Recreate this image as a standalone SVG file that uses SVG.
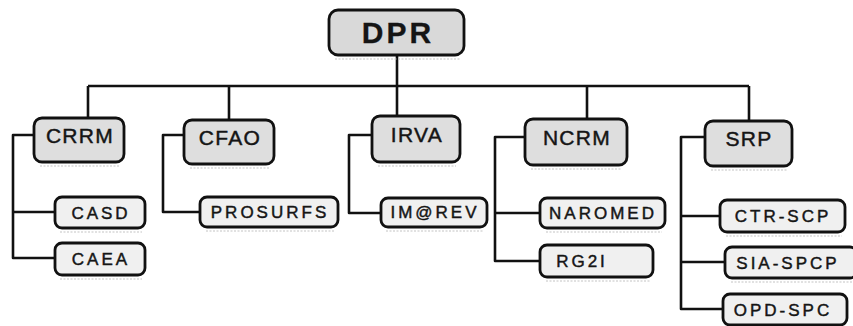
<svg xmlns="http://www.w3.org/2000/svg" width="853" height="326" viewBox="0 0 853 326">
  <style>
    .bg { fill: #ffffff; }
    .wire { fill: none; stroke: #111111; stroke-width: 2.6; stroke-linejoin: round; }
    .box { stroke: #111111; stroke-width: 2.8; }
    .top { fill: #d9d9d9; }
    .mid { fill: #dedede; }
    .leaf { fill: #f0f0f0; }
    .shade { fill: none; stroke: #c4c4c4; stroke-width: 1.2; stroke-dasharray: 2 1.5; }
    text { font-family: "Liberation Sans", Arial, sans-serif; fill: #151515; stroke: #151515; stroke-width: 0.45; text-anchor: middle; }
    .t0 { font-size: 30px; font-weight: bold; letter-spacing: 3px; stroke-width: 0.3; }
    .t1 { font-size: 21px; letter-spacing: 1.3px; }
    .t2 { font-size: 17px; letter-spacing: 3px; }
  </style>

  <rect class="bg" x="0" y="0" width="853" height="326"/>

  <!-- connectors -->
  <g id="connectors">
    <!-- root to first level -->
    <path class="wire" d="M397,55 V86 M88,86 H749 M88,86 V118 M229,86 V120 M397,86 V116 M587,86 V119 M749,86 V121"/>
    <!-- CRRM children -->
    <path class="wire" d="M34,135 H13 V258 H55 M13,212 H55"/>
    <!-- CFAO child -->
    <path class="wire" d="M184,135 H163 V212 H200"/>
    <!-- IRVA child -->
    <path class="wire" d="M372,135 H349 V213 H381"/>
    <!-- NCRM children -->
    <path class="wire" d="M525,137 H495 V261 H540 M495,213 H540"/>
    <!-- SRP children -->
    <path class="wire" d="M705,137 H681 V309 H723 M681,216 H720 M681,262 H725"/>
  </g>

  <!-- root -->
  <g id="node-dpr">
    <line class="shade" x1="335" y1="59" x2="460" y2="59"/>
    <rect class="box top" x="329" y="10" width="135" height="45" rx="9"/>
    <text class="t0" x="398" y="43">DPR</text>
  </g>

  <!-- first level -->
  <g id="node-crrm">
    <line class="shade" x1="40" y1="166" x2="120" y2="166"/>
    <rect class="box mid" x="34" y="118" width="90" height="44" rx="8"/>
    <text class="t1" x="80" y="143">CRRM</text>
  </g>
  <g id="node-cfao">
    <line class="shade" x1="190" y1="168" x2="270" y2="168"/>
    <rect class="box mid" x="184" y="120" width="90" height="44" rx="8"/>
    <text class="t1" x="230" y="145">CFAO</text>
  </g>
  <g id="node-irva">
    <line class="shade" x1="378" y1="166" x2="456" y2="166"/>
    <rect class="box mid" x="372" y="116" width="88" height="46" rx="8"/>
    <text class="t1" x="417" y="142">IRVA</text>
  </g>
  <g id="node-ncrm">
    <line class="shade" x1="531" y1="169" x2="622" y2="169"/>
    <rect class="box mid" x="525" y="119" width="102" height="46" rx="8"/>
    <text class="t1" x="577" y="145">NCRM</text>
  </g>
  <g id="node-srp">
    <line class="shade" x1="711" y1="170" x2="788" y2="170"/>
    <rect class="box mid" x="705" y="121" width="87" height="45" rx="8"/>
    <text class="t1" x="749" y="146">SRP</text>
  </g>

  <!-- second level -->
  <g id="node-casd">
    <line class="shade" x1="60" y1="232" x2="142" y2="232"/>
    <rect class="box leaf" x="55" y="197" width="90" height="31" rx="7"/>
    <text class="t2" x="101" y="219">CASD</text>
  </g>
  <g id="node-caea">
    <line class="shade" x1="60" y1="279" x2="142" y2="279"/>
    <rect class="box leaf" x="55" y="243" width="90" height="32" rx="7"/>
    <text class="t2" x="101" y="265">CAEA</text>
  </g>
  <g id="node-prosurfs">
    <line class="shade" x1="206" y1="231" x2="335" y2="231"/>
    <rect class="box leaf" x="200" y="197" width="138" height="30" rx="7"/>
    <text class="t2" x="270" y="218">PROSURFS</text>
  </g>
  <g id="node-imrev">
    <line class="shade" x1="386" y1="231" x2="484" y2="231"/>
    <rect class="box leaf" x="381" y="198" width="106" height="29" rx="7"/>
    <text class="t2" x="435" y="218">IM@REV</text>
  </g>
  <g id="node-naromed">
    <line class="shade" x1="546" y1="232" x2="662" y2="232"/>
    <rect class="box leaf" x="540" y="198" width="125" height="30" rx="7"/>
    <text class="t2" x="603" y="219">NAROMED</text>
  </g>
  <g id="node-rg2i">
    <line class="shade" x1="546" y1="281" x2="650" y2="281"/>
    <rect class="box leaf" x="540" y="245" width="113" height="32" rx="7"/>
    <text class="t2" x="582" y="267">RG2I</text>
  </g>
  <g id="node-ctr-scp">
    <line class="shade" x1="726" y1="236" x2="842" y2="236"/>
    <rect class="box leaf" x="720" y="200" width="125" height="32" rx="7"/>
    <text class="t2" x="783" y="222">CTR-SCP</text>
  </g>
  <g id="node-sia-spcp">
    <line class="shade" x1="731" y1="282" x2="853" y2="282"/>
    <rect class="box leaf" x="725" y="247" width="132" height="31" rx="7"/>
    <text class="t2" x="788" y="269">SIA-SPCP</text>
  </g>
  <g id="node-opd-spc">
    <rect class="box leaf" x="723" y="294" width="124" height="31" rx="7"/>
    <text class="t2" x="783" y="316">OPD-SPC</text>
  </g>
</svg>
